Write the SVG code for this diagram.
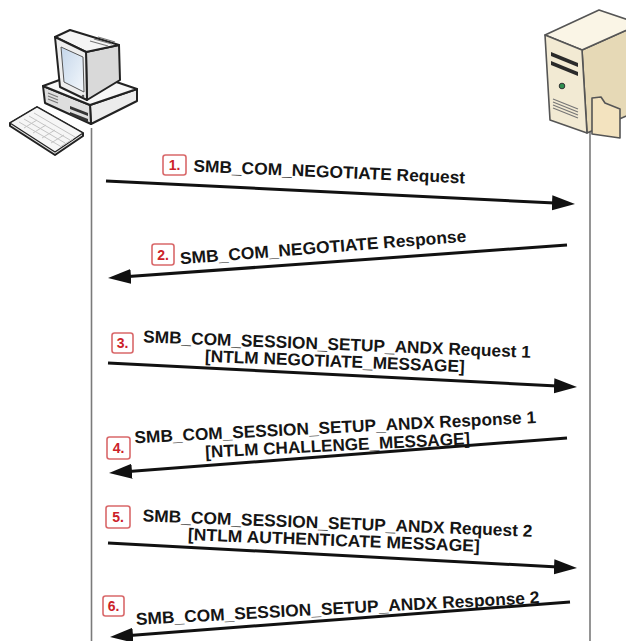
<svg xmlns="http://www.w3.org/2000/svg" width="626" height="641" viewBox="0 0 626 641">
  <defs>
    <marker id="head" markerUnits="userSpaceOnUse" markerWidth="24" markerHeight="16" viewBox="0 0 24 16" refX="13" refY="8" orient="auto">
      <path d="M0,0.5 L23,8 L0,15.5 Z" fill="#111"/>
    </marker>
    <linearGradient id="screen" x1="0" y1="0" x2="1" y2="1">
      <stop offset="0" stop-color="#c4d6ea"/>
      <stop offset="1" stop-color="#f4f8fc"/>
    </linearGradient>
  </defs>
  <style>
    .life{stroke:#7a7a7a;stroke-width:1.6;fill:none}
    .msg{stroke:#111;stroke-width:3;fill:none;marker-end:url(#head)}
    .lbl{font-family:"Liberation Sans",Arial,sans-serif;font-weight:bold;font-size:17px;fill:#151515;text-anchor:middle}
    .badge rect{fill:#fff;stroke:#d9686a;stroke-width:1.6}
    .badge text{font-family:"Liberation Sans",Arial,sans-serif;font-weight:bold;font-size:14px;fill:#cc2229;text-anchor:middle}
    .ol{stroke:#222;stroke-width:2;stroke-linejoin:round}
    .so{stroke:#555;stroke-width:1.6;stroke-linejoin:round}
    .key{stroke:#c4c4c4;stroke-width:1;fill:none}
    .vent{stroke:#777;stroke-width:1.2;fill:none}
  </style>

  <rect width="626" height="641" fill="#fff"/>

  <!-- lifelines -->
  <g id="lifelines">
    <line class="life" x1="91.5" y1="128" x2="91.5" y2="641"/>
    <line class="life" x1="590" y1="132" x2="590" y2="641"/>
  </g>

  <!-- workstation -->
  <g id="client">
    <!-- keyboard -->
    <polygon class="ol" points="10,123 37,107 83,133 83,136 55,155 10,126" fill="#e4e4e4"/>
    <polygon points="10,123 37,107 83,133 55,152" fill="#f6f6f6" stroke="#222" stroke-width="1.2" stroke-linejoin="round"/>
    <path class="key" d="M19,122 L60,146 M24,119 L65,143 M29,116 L70,140 M34,113 L75,137 M24,128 L37,120 M33,133 L46,125 M42,138 L55,130 M51,143 L64,135 M60,147 L73,139"/>
    <!-- case -->
    <polygon class="ol" points="90,105 137,89 137,101 91,124" fill="#ececec"/>
    <polygon class="ol" points="43,86 90,105 91,124 45,103" fill="#dedede"/>
    <polygon class="ol" points="43,86 84,71 137,89 90,105" fill="#f7f7f7"/>
    <path class="vent" d="M48,93 L58,97 M48,96 L58,100 M48,99 L58,103"/>
    <polygon points="70,106 88,113 88,116 70,109" fill="#333"/>
    <polygon points="70,112 88,119 88,122 70,115" fill="#333"/>
    <!-- monitor -->
    <polygon class="ol" points="86,52 119,45 120,80 87,100" fill="#d9d9d9"/>
    <polygon class="ol" points="55,37 70,30 119,45 86,52" fill="#f5f5f5"/>
    <polygon class="ol" points="55,37 86,52 87,100 60,87" fill="#eeeeee"/>
    <polygon points="61,47 83,57 84,92 64,82" fill="url(#screen)" stroke="#555" stroke-width="1"/>
    <path class="vent" d="M90,41 L108,46 M94,39 L112,44 M98,37 L115,42"/>
    <circle cx="83" cy="96" r="1.3" fill="#555"/>
  </g>

  <!-- file server -->
  <g id="server">
    <polygon class="so" points="582,50 640,24 640,110 587,133" fill="#e6d9b6"/>
    <polygon class="so" points="545,35 599,10 640,24 582,50" fill="#faf5e6"/>
    <polygon class="so" points="545,35 582,50 587,133 550,120" fill="#f2ead3"/>
    <polygon points="551,52 578,63 578,67 551,56" fill="#2a2a2a"/>
    <polygon points="551,61 578,72 578,76 551,65" fill="#2a2a2a"/>
    <circle cx="562" cy="86" r="2.8" fill="#2f8f4f" stroke="#333" stroke-width="1"/>
    <path class="vent" d="M553,99 L578,109 M553,102 L578,112 M553,105 L578,115 M553,108 L578,118"/>
    <path class="so" d="M592,134 V98 L601,97 L605,103 L620,109 V138 Z" fill="#f3e3bf"/>
  </g>

  <!-- messages -->
  <g id="connectors">
    <path class="msg" d="M106,181 L565,203.5"/>
    <path class="msg" d="M567,245 L118,277.3"/>
    <path class="msg" d="M108,363 L567,386.5"/>
    <path class="msg" d="M567,438 L119,472.2"/>
    <path class="msg" d="M108,543 L567,567.5"/>
    <path class="msg" d="M570,602 L120,636.2"/>
  </g>

  <!-- step numbers -->
  <g id="badges" class="badge">
    <rect x="163" y="155" width="23" height="20" rx="2.5"/><text x="174.5" y="170">1.</text>
    <rect x="152" y="244" width="22" height="21" rx="2.5"/><text x="163" y="259.5">2.</text>
    <rect x="112" y="333" width="21" height="20" rx="2.5"/><text x="122.5" y="348">3.</text>
    <rect x="107" y="437" width="23" height="22" rx="2.5"/><text x="118.5" y="453">4.</text>
    <rect x="106" y="506" width="24" height="22" rx="2.5"/><text x="118" y="522">5.</text>
    <rect x="103" y="596" width="21" height="20" rx="2.5"/><text x="113.5" y="611">6.</text>
  </g>

  <!-- message labels -->
  <g id="labels" class="lbl">
    <text x="329" y="177.5" textLength="272" lengthAdjust="spacingAndGlyphs" transform="rotate(2.5 329 177.5)">SMB_COM_NEGOTIATE Request</text>
    <text x="323.5" y="253" textLength="287" lengthAdjust="spacingAndGlyphs" transform="rotate(-4.5 323.5 253)">SMB_COM_NEGOTIATE Response</text>
    <g transform="rotate(2.3 336 358)">
      <text x="336.5" y="350" textLength="388" lengthAdjust="spacingAndGlyphs">SMB_COM_SESSION_SETUP_ANDX Request 1</text>
      <text x="335" y="367" textLength="260" lengthAdjust="spacingAndGlyphs">[NTLM NEGOTIATE_MESSAGE]</text>
    </g>
    <g transform="rotate(-2.9 337 442)">
      <text x="336" y="433" textLength="402" lengthAdjust="spacingAndGlyphs">SMB_COM_SESSION_SETUP_ANDX Response 1</text>
      <text x="337.5" y="451" textLength="265" lengthAdjust="spacingAndGlyphs">[NTLM CHALLENGE_MESSAGE]</text>
    </g>
    <g transform="rotate(2.3 336 537)">
      <text x="337" y="529" textLength="390" lengthAdjust="spacingAndGlyphs">SMB_COM_SESSION_SETUP_ANDX Request 2</text>
      <text x="334" y="546" textLength="292" lengthAdjust="spacingAndGlyphs">[NTLM AUTHENTICATE MESSAGE]</text>
    </g>
    <text x="338" y="614" textLength="404" lengthAdjust="spacingAndGlyphs" transform="rotate(-3.1 338 614)">SMB_COM_SESSION_SETUP_ANDX Response 2</text>
  </g>
</svg>
